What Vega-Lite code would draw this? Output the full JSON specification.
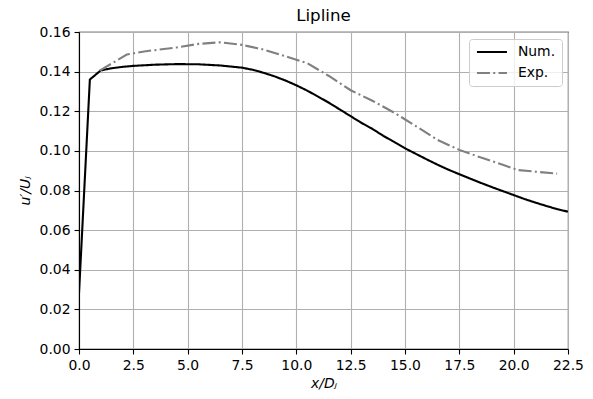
{
  "$schema": "https://vega.github.io/schema/vega-lite/v6.json",
  "autosize": {"type": "none"},
  "padding": {"left": 79, "top": 32, "right": 25, "bottom": 50},
  "width": 489,
  "height": 317,
  "title": {"text": "Lipline", "font": "DejaVu Sans", "fontSize": 16.7, "fontWeight": "normal", "color": "black", "offset": 0},
  "data": {
    "values": [
      {"series": "Num.", "x": 0.0, "y": 0.028},
      {"series": "Num.", "x": 0.5, "y": 0.136},
      {"series": "Num.", "x": 1.0, "y": 0.1406},
      {"series": "Num.", "x": 1.5, "y": 0.1417},
      {"series": "Num.", "x": 2.0, "y": 0.1424},
      {"series": "Num.", "x": 2.5, "y": 0.1429},
      {"series": "Num.", "x": 3.5, "y": 0.1435},
      {"series": "Num.", "x": 4.5, "y": 0.1438},
      {"series": "Num.", "x": 5.5, "y": 0.1437},
      {"series": "Num.", "x": 6.5, "y": 0.1431},
      {"series": "Num.", "x": 7.5, "y": 0.142},
      {"series": "Num.", "x": 8.0, "y": 0.1409},
      {"series": "Num.", "x": 8.5, "y": 0.1394},
      {"series": "Num.", "x": 9.0, "y": 0.1376},
      {"series": "Num.", "x": 9.5, "y": 0.1355},
      {"series": "Num.", "x": 10.0, "y": 0.1331},
      {"series": "Num.", "x": 10.5, "y": 0.1304},
      {"series": "Num.", "x": 11.0, "y": 0.1274},
      {"series": "Num.", "x": 11.5, "y": 0.1243},
      {"series": "Num.", "x": 12.0, "y": 0.1209},
      {"series": "Num.", "x": 12.5, "y": 0.1175},
      {"series": "Num.", "x": 13.0, "y": 0.1141},
      {"series": "Num.", "x": 13.5, "y": 0.1111},
      {"series": "Num.", "x": 14.0, "y": 0.1076},
      {"series": "Num.", "x": 14.5, "y": 0.1045},
      {"series": "Num.", "x": 15.0, "y": 0.1013},
      {"series": "Num.", "x": 15.5, "y": 0.0985},
      {"series": "Num.", "x": 16.0, "y": 0.0957},
      {"series": "Num.", "x": 16.5, "y": 0.093},
      {"series": "Num.", "x": 17.0, "y": 0.0905},
      {"series": "Num.", "x": 17.5, "y": 0.0882},
      {"series": "Num.", "x": 18.0, "y": 0.086},
      {"series": "Num.", "x": 18.5, "y": 0.0838},
      {"series": "Num.", "x": 19.0, "y": 0.0817},
      {"series": "Num.", "x": 19.5, "y": 0.0797},
      {"series": "Num.", "x": 20.0, "y": 0.0777},
      {"series": "Num.", "x": 20.5, "y": 0.0757},
      {"series": "Num.", "x": 21.0, "y": 0.0739},
      {"series": "Num.", "x": 21.5, "y": 0.0722},
      {"series": "Num.", "x": 22.0, "y": 0.0706},
      {"series": "Num.", "x": 22.5, "y": 0.0693},
      {"series": "Exp.", "x": 0.95, "y": 0.1405},
      {"series": "Exp.", "x": 2.2, "y": 0.1486},
      {"series": "Exp.", "x": 3.0, "y": 0.1502},
      {"series": "Exp.", "x": 4.5, "y": 0.1522},
      {"series": "Exp.", "x": 5.5, "y": 0.154},
      {"series": "Exp.", "x": 6.5, "y": 0.1548},
      {"series": "Exp.", "x": 7.5, "y": 0.1535},
      {"series": "Exp.", "x": 8.5, "y": 0.1511},
      {"series": "Exp.", "x": 9.5, "y": 0.1478},
      {"series": "Exp.", "x": 10.5, "y": 0.1443},
      {"series": "Exp.", "x": 11.5, "y": 0.1378},
      {"series": "Exp.", "x": 12.5, "y": 0.1306},
      {"series": "Exp.", "x": 13.5, "y": 0.1253},
      {"series": "Exp.", "x": 14.5, "y": 0.1193},
      {"series": "Exp.", "x": 15.5, "y": 0.1125},
      {"series": "Exp.", "x": 16.5, "y": 0.1055},
      {"series": "Exp.", "x": 17.5, "y": 0.1005},
      {"series": "Exp.", "x": 18.5, "y": 0.0966},
      {"series": "Exp.", "x": 19.5, "y": 0.093},
      {"series": "Exp.", "x": 20.2, "y": 0.0903},
      {"series": "Exp.", "x": 21.0, "y": 0.0895},
      {"series": "Exp.", "x": 22.0, "y": 0.0885}
    ]
  },
  "mark": {"type": "line", "strokeWidth": 2.1, "clip": true},
  "encoding": {
    "x": {
      "field": "x", "type": "quantitative",
      "scale": {"domain": [0, 22.5], "nice": false, "zero": false},
      "axis": {"values": [0, 2.5, 5, 7.5, 10, 12.5, 15, 17.5, 20, 22.5], "format": ".1f", "labelFlush": false, "title": "x/Dⱼ", "titleFontStyle": "italic", "titlePadding": 5}
    },
    "y": {
      "field": "y", "type": "quantitative",
      "scale": {"domain": [0, 0.16], "nice": false},
      "axis": {"values": [0, 0.02, 0.04, 0.06, 0.08, 0.1, 0.12, 0.14, 0.16], "format": ".2f", "labelFlush": false, "title": "u′/Uⱼ", "titleFontStyle": "italic", "titlePadding": 7}
    },
    "color": {
      "field": "series", "type": "nominal",
      "scale": {"domain": ["Num.", "Exp."], "range": ["#000000", "#808080"]},
      "legend": {"title": null}
    },
    "strokeDash": {
      "field": "series", "type": "nominal",
      "scale": {"domain": ["Num.", "Exp."], "range": [[1, 0], [13, 3.3, 2, 3.3]]},
      "legend": {"title": null}
    }
  },
  "config": {
    "font": "DejaVu Sans",
    "view": {"stroke": "#000000", "strokeWidth": 1.1},
    "axis": {
      "labelFont": "DejaVu Sans", "labelFontSize": 13.9, "labelColor": "#000000",
      "titleFont": "DejaVu Sans", "titleFontSize": 13.9, "titleColor": "#000000", "titleFontWeight": "normal",
      "domainColor": "#000000", "domainWidth": 1.1,
      "tickColor": "#000000", "tickWidth": 1.1, "tickSize": 5,
      "labelPadding": 4,
      "grid": true, "gridColor": "#b0b0b0", "gridWidth": 1.1
    },
    "legend": {
      "orient": "none", "legendX": 390, "legendY": 7,
      "symbolType": "M-3,0H3", "symbolSize": 100, "symbolStrokeWidth": 2.1, "symbolOffset": 10,
      "labelFont": "DejaVu Sans", "labelFontSize": 13.9, "labelColor": "#000000", "labelOffset": 19,
      "rowPadding": 6,
      "padding": 6, "strokeColor": "#cccccc", "fillColor": "rgba(255,255,255,0.8)", "cornerRadius": 3
    }
  }
}
